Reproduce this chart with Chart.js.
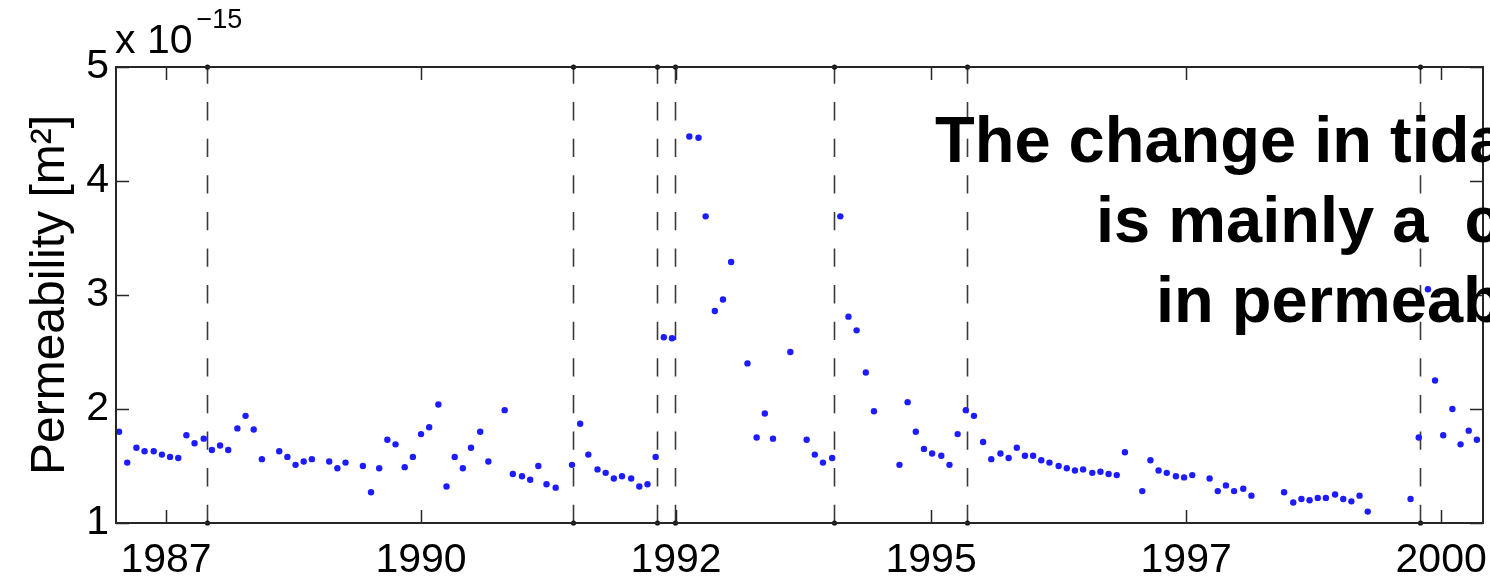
<!DOCTYPE html>
<html>
<head>
<meta charset="utf-8">
<title>Permeability</title>
<script src="https://cdn.jsdelivr.net/npm/chart.js@4.4.1/dist/chart.umd.min.js"></script>
<style>
  html, body { margin: 0; padding: 0; background: #ffffff; }
  #wrap { width: 1490px; height: 579px; }
</style>
</head>
<body>
<div id="wrap"><canvas id="chart" width="1490" height="579"></canvas></div>
<script>
// Sample dates (decimal years) and inferred permeability (units of 1e-15 m^2)
const sampleYears = [
  1987.04, 1987.12, 1987.21, 1987.29, 1987.38, 1987.46, 1987.54, 1987.62, 1987.70, 1987.78,
  1987.87, 1987.95, 1988.03, 1988.11, 1988.20, 1988.28, 1988.36, 1988.44, 1988.61, 1988.69,
  1988.77, 1988.85, 1988.93, 1989.10, 1989.18, 1989.26, 1989.43, 1989.51, 1989.59, 1989.67,
  1989.75, 1989.84, 1989.92, 1990.00, 1990.08, 1990.17, 1990.25, 1990.33, 1990.41, 1990.49,
  1990.58, 1990.66, 1990.82, 1990.90, 1990.99, 1991.07, 1991.15, 1991.23, 1991.32, 1991.48,
  1991.56, 1991.64, 1991.73, 1991.81, 1991.89, 1991.97, 1992.06, 1992.14, 1992.22, 1992.30,
  1992.38, 1992.46, 1992.63, 1992.72, 1992.79, 1992.88, 1992.96, 1993.04, 1993.20, 1993.29,
  1993.37, 1993.45, 1993.62, 1993.78, 1993.86, 1993.94, 1994.03, 1994.11, 1994.19, 1994.27,
  1994.36, 1994.44, 1994.69, 1994.77, 1994.85, 1994.93, 1995.01, 1995.10, 1995.18, 1995.26,
  1995.34, 1995.42, 1995.51, 1995.59, 1995.68, 1995.76, 1995.84, 1995.92, 1996.00, 1996.08,
  1996.16, 1996.25, 1996.33, 1996.41, 1996.49, 1996.58, 1996.66, 1996.74, 1996.82, 1996.90,
  1997.07, 1997.15, 1997.23, 1997.31, 1997.40, 1997.48, 1997.56, 1997.73, 1997.81, 1997.89,
  1997.97, 1998.06, 1998.14, 1998.46, 1998.55, 1998.63, 1998.71, 1998.79, 1998.87, 1998.96,
  1999.04, 1999.12, 1999.20, 1999.28, 1999.70, 1999.78, 1999.87, 1999.94, 2000.02, 2000.11,
  2000.19, 2000.27, 2000.35
];
const permeability = [
  1.80, 1.53, 1.66, 1.63, 1.63, 1.60, 1.58, 1.57, 1.77, 1.70,
  1.74, 1.64, 1.68, 1.64, 1.83, 1.94, 1.82, 1.56, 1.63, 1.58,
  1.51, 1.54, 1.56, 1.54, 1.48, 1.53, 1.50, 1.27, 1.48, 1.73,
  1.69, 1.49, 1.58, 1.78, 1.84, 2.04, 1.32, 1.58, 1.48, 1.66,
  1.80, 1.54, 1.99, 1.43, 1.41, 1.38, 1.50, 1.34, 1.31, 1.51,
  1.87, 1.60, 1.47, 1.44, 1.39, 1.41, 1.39, 1.32, 1.34, 1.58,
  2.63, 2.62, 4.39, 4.38, 3.69, 2.86, 2.96, 3.29, 2.40, 1.75,
  1.96, 1.74, 2.50, 1.73, 1.60, 1.53, 1.57, 3.69, 2.81, 2.69,
  2.32, 1.98, 1.51, 2.06, 1.80, 1.65, 1.61, 1.59, 1.51, 1.78,
  1.99, 1.94, 1.71, 1.56, 1.61, 1.57, 1.66, 1.59, 1.59, 1.55,
  1.53, 1.50, 1.48, 1.46, 1.47, 1.44, 1.45, 1.43, 1.42, 1.62,
  1.28, 1.55, 1.46, 1.44, 1.41, 1.40, 1.42, 1.39, 1.28, 1.33,
  1.28, 1.30, 1.24, 1.27, 1.18, 1.21, 1.20, 1.22, 1.22, 1.25,
  1.21, 1.19, 1.24, 1.10, 1.21, 1.75, 3.05, 2.25, 1.77, 2.00,
  1.69, 1.81, 1.73
];

// Earthquake dates marked by dashed vertical lines
const eventYears = [1987.90, 1991.49, 1992.31, 1992.49, 1994.05, 1995.35, 1999.79];

// Axis ticks and their labels
const tickYears = [1987.5, 1990, 1992.5, 1995, 1997.5, 2000];
const tickLabels = ['1987', '1990', '1992', '1995', '1997', '2000'];
const yTicks = [1, 2, 3, 4, 5];

// Headline lines and the left edge each line starts at
const headline = ['The change in tidal response', 'is mainly a  change', 'in permeability'];
const headlineX = [935, 1096, 1156];

const FONT = "'Liberation Sans', Arial, Helvetica, sans-serif";
const INK = '#262626';
const TICK_LEN = 13;

const points = sampleYears.map((t, i) => ({ x: t, y: permeability[i] }));

const decorations = {
  id: 'decorations',
  beforeDatasetsDraw(chart) {
    const { ctx, scales: { x, y } } = chart;
    const yb = y.getPixelForValue(yTicks[0]);
    const yt = y.getPixelForValue(yTicks[yTicks.length - 1]);
    ctx.save();
    ctx.strokeStyle = '#3a3a3a';
    ctx.lineWidth = 1.6;
    ctx.setLineDash([18.3, 18.3]);
    eventYears.forEach(v => {
      const px = Math.round(x.getPixelForValue(v)) + 0.5;
      ctx.beginPath();
      ctx.moveTo(px, yb);
      ctx.lineTo(px, yt);
      ctx.stroke();
    });
    ctx.setLineDash([]);
    ctx.fillStyle = '#111';
    eventYears.forEach(v => {
      const px = Math.round(x.getPixelForValue(v)) + 0.5;
      [yb, yt].forEach(py => {
        ctx.beginPath();
        ctx.arc(px, py, 2.6, 0, Math.PI * 2);
        ctx.fill();
      });
    });
    ctx.restore();
  },
  afterDatasetsDraw(chart) {
    const { ctx, chartArea: a, scales: { x, y } } = chart;
    ctx.save();
    ctx.strokeStyle = INK;
    ctx.lineWidth = 1.5;
    // inward tick marks on all four sides
    ctx.beginPath();
    tickYears.forEach(v => {
      const px = Math.round(x.getPixelForValue(v)) + 0.5;
      ctx.moveTo(px, a.bottom); ctx.lineTo(px, a.bottom - TICK_LEN);
      ctx.moveTo(px, a.top); ctx.lineTo(px, a.top + TICK_LEN);
    });
    yTicks.forEach(v => {
      const py = Math.round(y.getPixelForValue(v)) + 0.5;
      ctx.moveTo(a.left, py); ctx.lineTo(a.left + TICK_LEN, py);
      ctx.moveTo(a.right, py); ctx.lineTo(a.right - TICK_LEN, py);
    });
    ctx.stroke();
    // axes box
    ctx.lineWidth = 2;
    ctx.strokeRect(a.left, a.top, a.right - a.left, a.bottom - a.top);
    ctx.restore();
  },
  afterDraw(chart) {
    const { ctx, chartArea: a } = chart;
    ctx.save();
    ctx.fillStyle = '#000';
    ctx.textBaseline = 'alphabetic';
    ctx.textAlign = 'left';
    // exponent multiplier above the y axis
    ctx.font = '41px ' + FONT;
    ctx.fillText('x 10', a.left - 1, 53);
    const w = ctx.measureText('x 10').width;
    ctx.font = '27px ' + FONT;
    ctx.fillText('\u221215', a.left - 1 + w + 4, 28);
    // headline text
    ctx.font = 'bold 65px ' + FONT;
    headline.forEach((line, i) => ctx.fillText(line, headlineX[i], 162 + i * 80));
    ctx.restore();
  }
};

new Chart(document.getElementById('chart'), {
  type: 'scatter',
  data: {
    datasets: [{
      data: points,
      backgroundColor: 'rgb(28,28,255)',
      borderWidth: 0,
      pointRadius: 3.2,
      pointHoverRadius: 3.2
    }]
  },
  options: {
    responsive: false,
    animation: false,
    events: [],
    layout: { padding: { top: 67, right: 7, bottom: 0, left: 0 } },
    plugins: { legend: { display: false }, tooltip: { enabled: false } },
    scales: {
      x: {
        type: 'linear',
        min: 1987.01,
        max: 2000.41,
        grid: { display: false, drawTicks: false },
        border: { display: false },
        afterBuildTicks: s => { s.ticks = tickYears.map(v => ({ value: v })); },
        afterFit: s => { s.height = 56; s.paddingLeft = 0; s.paddingRight = 0; },
        ticks: {
          autoSkip: false,
          maxRotation: 0,
          padding: 13,
          color: '#000',
          font: { family: FONT, size: 41 },
          callback: (v, i) => tickLabels[i]
        }
      },
      y: {
        type: 'linear',
        min: 1,
        max: 5,
        grid: { display: false, drawTicks: false },
        border: { display: false },
        afterBuildTicks: s => { s.ticks = yTicks.map(v => ({ value: v })); },
        afterFit: s => { s.width = 116; s.paddingTop = 0; s.paddingBottom = 0; },
        ticks: {
          padding: 7,
          color: '#000',
          font: { family: FONT, size: 41 },
          callback: v => String(v)
        },
        title: {
          display: true,
          text: 'Permeability [m\u00b2]',
          color: '#000',
          font: { family: FONT, size: 48 },
          padding: { top: 22, bottom: 0 }
        }
      }
    }
  },
  plugins: [decorations]
});
</script>
</body>
</html>
